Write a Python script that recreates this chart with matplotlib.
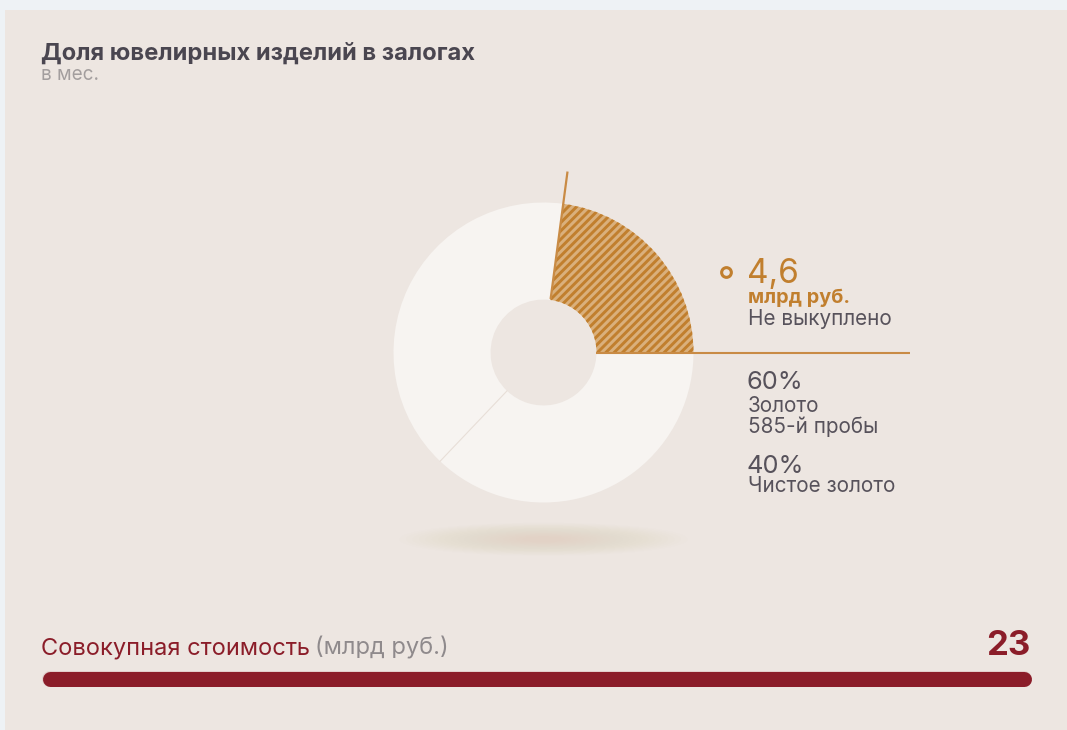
import matplotlib
matplotlib.use('Agg')
import matplotlib.pyplot as plt
from matplotlib.patches import Rectangle, Ellipse
import numpy as np

# ---------------- data ----------------
title = "Доля ювелирных изделий в залогах"
subtitle = "в мес."
unredeemed_value = 4.6
unredeemed_unit = "млрд руб."
unredeemed_label = "Не выкуплено"
unredeemed_share = 0.229          # angular share of the hatched sector
gold_pct = [60, 40]
gold_names = [["Золото", "585-й пробы"], ["Чистое золото"]]
total_label = "Совокупная стоимость"
total_unit = "(млрд руб.)"
total_value = 23
total_max = 23

# ---------------- style ----------------
W, H = 1067, 730
plt.rcParams['font.family'] = ['Inter', 'DejaVu Sans']
plt.rcParams['hatch.linewidth'] = 2.1

PANEL = '#ede6e1'
FRAME = '#eef2f5'
RING = '#f7f4f1'
ORANGE = '#c17f2e'
TAN = '#dab07c'
LINE = '#c98b45'
DARK = '#57525b'
TITLE = '#4a4650'
GREY = '#a39e9e'
RED = '#8b1d29'

fig = plt.figure(figsize=(W / 100, H / 100), dpi=100)
fig.patch.set_facecolor(FRAME)


def fx(x):
    return x / W


def fy(y):
    return 1 - y / H


# background panel
bg = fig.add_axes([0, 0, 1, 1])
bg.set_xlim(0, W)
bg.set_ylim(H, 0)
bg.axis('off')
bg.add_patch(Rectangle((5, 10), W - 5, H - 10, facecolor=PANEL, edgecolor='none'))

# ---------------- donut ----------------
R = 150.0
cx, cy = 543.5, 352.5
x0, x1, y0, y1 = -1.3, 2.5, -1.45, 1.3
ax = fig.add_axes([fx(cx + x0 * R), fy(cy - y0 * R),
                   (x1 - x0) * R / W, (y1 - y0) * R / H])
inner = 0.353

# soft shadow
for i in range(20):
    s = 1 - i * 0.045
    ax.add_patch(Ellipse((0, -1.245), 1.92 * s, 0.22 * s,
                         facecolor='#e2cfbb', edgecolor='none', alpha=0.04))

start = 360 * unredeemed_share
ax.pie(gold_pct[::-1], startangle=start, counterclock=True,
       colors=[RING, RING], radius=1,
       wedgeprops=dict(width=1 - inner, edgecolor='none', linewidth=0))

ax.pie([unredeemed_share, 1 - unredeemed_share], startangle=0, counterclock=True,
       colors=[TAN, 'none'], hatch=['////', ''], radius=1,
       wedgeprops=dict(width=1 - inner, edgecolor=ORANGE, linewidth=0))

# split line between gold types
a2 = np.deg2rad(start + 360 * gold_pct[1] / sum(gold_pct))
ax.plot([inner * np.cos(a2), np.cos(a2)], [inner * np.sin(a2), np.sin(a2)],
        color='#e8dfd8', lw=0.8)

# sector edge line
a1 = np.deg2rad(start)
ax.plot([0.36 * np.cos(a1), 1.217 * np.cos(a1)],
        [0.36 * np.sin(a1), 1.217 * np.sin(a1)],
        color=LINE, lw=1.6, solid_capstyle='butt')
# horizontal leader
ax.plot([inner, 2.443], [0, 0], color=LINE, lw=1.5, solid_capstyle='butt', clip_on=False)

ax.set_xlim(x0, x1)
ax.set_ylim(y0, y1)
ax.set_aspect('auto')
ax.axis('off')

# ---------------- annotations ----------------
bg.plot([725.5], [272.3], 'o', ms=7, mfc='none', mec=ORANGE, mew=2.2)
fig.text(fx(747), fy(283.3), f"{unredeemed_value:.1f}".replace('.', ','),
         fontsize=24, color=ORANGE, va='baseline')
fig.text(fx(748), fy(303.3), unredeemed_unit, fontsize=14.3, fontweight='bold',
         color=ORANGE, va='baseline')
fig.text(fx(748), fy(325), unredeemed_label, fontsize=14.9, color=DARK, va='baseline')

fig.text(fx(747), fy(389.3), f"{gold_pct[0]}%", fontsize=18.3, color=DARK, va='baseline')
fig.text(fx(748), fy(412.3), gold_names[0][0], fontsize=14.9, color=DARK, va='baseline')
fig.text(fx(748), fy(433.3), gold_names[0][1], fontsize=14.9, color=DARK, va='baseline')
fig.text(fx(747), fy(473.3), f"{gold_pct[1]}%", fontsize=18.3, color=DARK, va='baseline')
fig.text(fx(748), fy(492.3), gold_names[1][0], fontsize=14.9, color=DARK, va='baseline')

# title
fig.text(fx(41), fy(59.3), title, fontsize=17.1, fontweight='bold', color=TITLE, va='baseline')
fig.text(fx(41), fy(80), subtitle, fontsize=13.6, color=GREY, va='baseline')

# ---------------- total bar ----------------
t = fig.text(fx(41), fy(654.3), total_label, fontsize=17, color=RED, va='baseline')
fig.canvas.draw()
ext = t.get_window_extent(fig.canvas.get_renderer())
fig.text(ext.x1 / W + 5 / W, fy(654.3), total_unit, fontsize=17, color='#8f8a8c', va='baseline')
fig.text(fx(1030), fy(655), f"{total_value}", fontsize=25, fontweight='bold',
         color=RED, va='baseline', ha='right')

bar_l, bar_r, bar_y = 49.5, 1023.5, 678.5
axb = fig.add_axes([fx(bar_l), fy(bar_y + 15), (bar_r - bar_l) / W, 30 / H])
axb.set_xlim(0, total_max)
axb.set_ylim(-1, 1)
axb.axis('off')
axb.plot([0, total_max], [0, 0], color='#e2cfcc', lw=11.5, solid_capstyle='round', clip_on=False)
axb.plot([0, total_value], [0, 0], color=RED, lw=10.8, solid_capstyle='round', clip_on=False)

fig.savefig('out.png', dpi=100, facecolor=fig.get_facecolor())
